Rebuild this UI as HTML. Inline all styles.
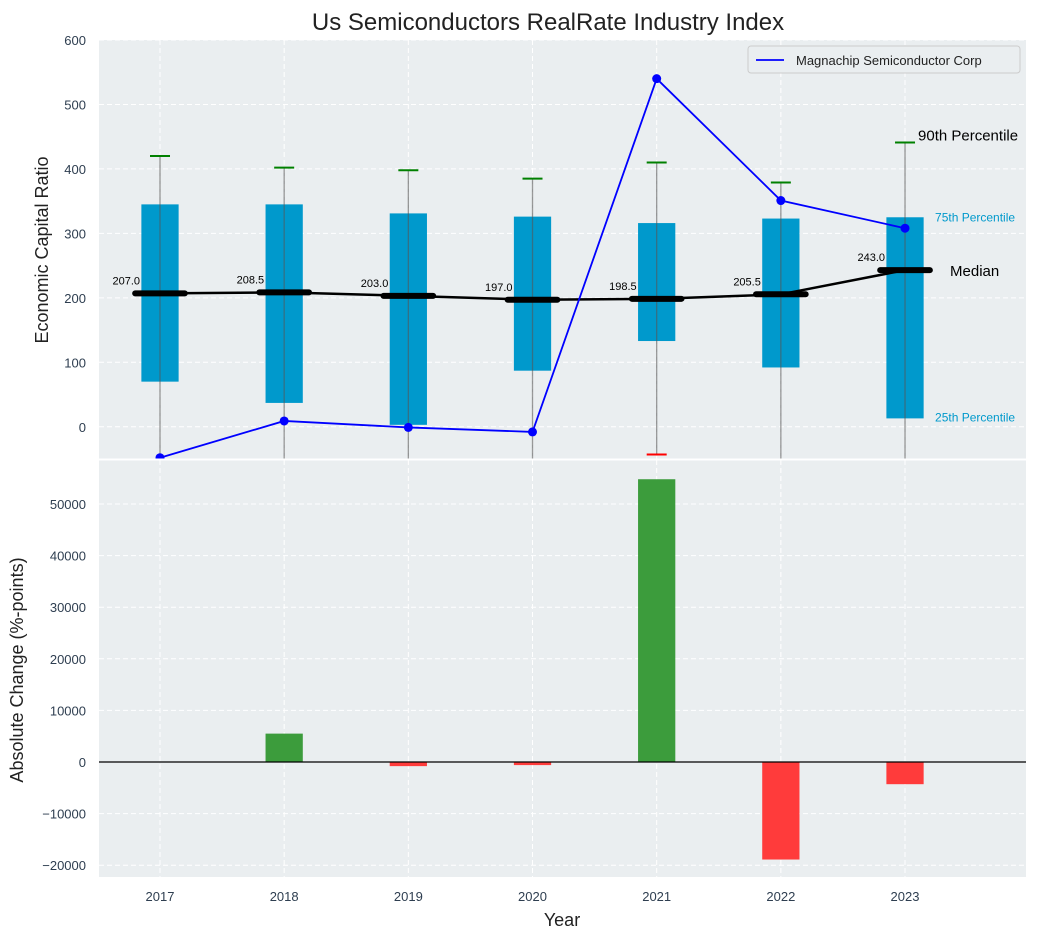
<!DOCTYPE html>
<html><head><meta charset="utf-8"><style>
body{margin:0;background:#fff;font-family:"Liberation Sans",sans-serif}
svg text{font-family:"Liberation Sans",sans-serif}
</style></head><body>
<svg id="c" width="1038" height="940" xmlns="http://www.w3.org/2000/svg"></svg>
<script>
const years=[2017,2018,2019,2020,2021,2022,2023];
const q1=[70,37,3,87,133,92,13];
const q3=[345,345,331,326,316,323,325];
const p90=[420,402,398,385,410,379,441];
const p10=[-200,-200,-200,-200,-43,-200,-200];
const medians=[207,208.5,203,197,198.5,205.5,243];
const company=[-48,9,-1,-8,540,351,308];
const changes=[0,5500,-800,-600,54800,-18900,-4300];
const yTicksTop=[0,100,200,300,400,500,600];
const yTicksBot=[-20000,-10000,0,10000,20000,30000,40000,50000];

const svg=document.getElementById('c');const NS='http://www.w3.org/2000/svg';
function mk(tag,a,parent,txt){const e=document.createElementNS(NS,tag);for(const k in a)e.setAttribute(k,a[k]);if(txt!==undefined)e.textContent=txt;(parent||svg).appendChild(e);return e;}
const L=99,R=1026;
const x=v=>160+(v-2017)*124.17;
const T0=40,T1=459,B0=460,B1=877;
const yT=v=>T1-(v+50)/650*(T1-T0);
const yB=v=>B1-(v+22287)/(58527+22287)*(B1-B0);
const px=d=>d*124.17;
const TC='#2e3e50';

let e=mk('rect',{x:L,y:T0,width:R-L,height:T1-T0,fill:'#eaeef0'});

e=mk('rect',{x:L,y:B0,width:R-L,height:B1-B0,fill:'#eaeef0'});

mk('clipPath',{id:'ct'},svg);mk('rect',{x:L,y:T0,width:R-L,height:T1-T0},svg.lastChild);
mk('clipPath',{id:'cb'},svg);mk('rect',{x:L,y:B0,width:R-L,height:B1-B0},svg.lastChild);
const gT=mk('g',{'clip-path':'url(#ct)'});const gB=mk('g',{'clip-path':'url(#cb)'});
years.forEach(yr=>{mk('line',{x1:x(yr),x2:x(yr),y1:T0,y2:T1,stroke:'#fff','stroke-dasharray':'5,3','stroke-width':1},gT);
mk('line',{x1:x(yr),x2:x(yr),y1:B0,y2:B1,stroke:'#fff','stroke-dasharray':'5,3','stroke-width':1},gB);
e=mk('text',{x:x(yr),y:901,'text-anchor':'middle','font-size':13,fill:TC},svg,String(yr));
});
yTicksTop.forEach(v=>{mk('line',{x1:L,x2:R,y1:yT(v),y2:yT(v),stroke:'#fff','stroke-dasharray':'5,3'},gT);
e=mk('text',{x:86,y:yT(v)+5,'text-anchor':'end','font-size':13,fill:TC},svg,String(v));
});
yTicksBot.forEach(v=>{mk('line',{x1:L,x2:R,y1:yB(v),y2:yB(v),stroke:'#fff','stroke-dasharray':'5,3'},gB);
e=mk('text',{x:86,y:yB(v)+5,'text-anchor':'end','font-size':13,fill:TC},svg,(v<0?'\u2212':'')+Math.abs(v));
});
years.forEach((yr,i)=>{
 e=mk('rect',{x:x(yr)-px(0.15),y:yT(q3[i]),width:px(0.3),height:yT(q1[i])-yT(q3[i]),fill:'#0099cc'},gT);
 
 e=mk('line',{x1:x(yr),x2:x(yr),y1:yT(p90[i]),y2:yT(p10[i]),stroke:'#555','stroke-opacity':0.6,'stroke-width':1.3},gT);
 
 e=mk('line',{x1:x(yr)-10,x2:x(yr)+10,y1:yT(p90[i]),y2:yT(p90[i]),stroke:'green','stroke-width':2},gT);
 
 e=mk('line',{x1:x(yr)-10,x2:x(yr)+10,y1:yT(p10[i]),y2:yT(p10[i]),stroke:'red','stroke-width':2},gT);
 
});
e=mk('polyline',{points:years.map((yr,i)=>x(yr)+','+yT(medians[i])).join(' '),fill:'none',stroke:'#000','stroke-width':2.5},gT);

years.forEach((yr,i)=>{
 e=mk('line',{x1:x(yr)-px(0.2),x2:x(yr)+px(0.2),y1:yT(medians[i]),y2:yT(medians[i]),stroke:'#000','stroke-width':6,'stroke-linecap':'round'},gT);
 
 e=mk('text',{x:x(yr)-20,y:yT(medians[i])-9,'text-anchor':'end','font-size':11,fill:'#000'},gT,medians[i].toFixed(1));
 
});
e=mk('polyline',{points:years.map((yr,i)=>x(yr)+','+yT(company[i])).join(' '),fill:'none',stroke:'blue','stroke-width':1.8},gT);

years.forEach((yr,i)=>{e=mk('circle',{cx:x(yr),cy:yT(company[i]),r:4.5,fill:'blue'},gT);
 });
const last=years.length-1,lx=x(years[last]);
e=mk('text',{x:lx+13,y:yT(p90[last])-2,'font-size':15,fill:'#000'},svg,'90th Percentile');
e=mk('text',{x:lx+30,y:yT(q3[last])+4,'font-size':12,fill:'#0099cc'},svg,'75th Percentile');
e=mk('text',{x:lx+45,y:yT(medians[last])+6,'font-size':15,fill:'#000'},svg,'Median');
e=mk('text',{x:lx+30,y:yT(q1[last])+3,'font-size':12,fill:'#0099cc'},svg,'25th Percentile');
const lg=mk('g',{});
mk('rect',{x:748,y:46,width:272,height:27,fill:'#eaeef0',stroke:'#ccc',rx:3},lg);
mk('line',{x1:756,x2:784,y1:60,y2:60,stroke:'blue','stroke-width':1.8},lg);
mk('text',{x:796,y:65,'font-size':13,fill:'#222'},lg,'Magnachip Semiconductor Corp');
years.forEach((yr,i)=>{const v=changes[i];
 e=mk('rect',{x:x(yr)-px(0.15),y:Math.min(yB(0),yB(v)),width:px(0.3),height:Math.abs(yB(v)-yB(0)),fill:v>=0?'#3c9c3c':'#ff3b3b'},gB);
 });
mk('line',{x1:L,x2:R,y1:yB(0),y2:yB(0),stroke:'#000','stroke-width':1.2},gB);
mk('line',{x1:L,x2:R,y1:459.5,y2:459.5,stroke:'#fff','stroke-width':2});
e=mk('text',{x:548,y:30,'text-anchor':'middle','font-size':24,fill:'#222'},svg,'Us Semiconductors RealRate Industry Index');
e=mk('text',{x:0,y:0,'text-anchor':'middle','font-size':18,fill:'#222',transform:'translate(48,250) rotate(-90)'},svg,'Economic Capital Ratio');
e=mk('text',{x:0,y:0,'text-anchor':'middle','font-size':18,fill:'#222',transform:'translate(23,670) rotate(-90)'},svg,'Absolute Change (%-points)');
e=mk('text',{x:562,y:926,'text-anchor':'middle','font-size':18,fill:'#222'},svg,'Year');
</script>
</body></html>
